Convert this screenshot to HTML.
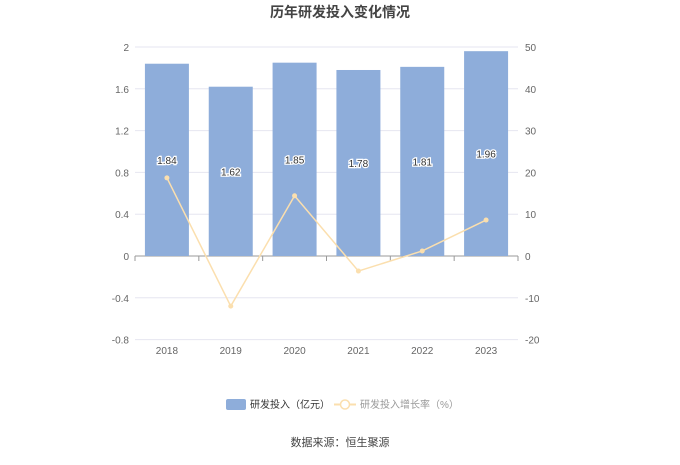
<!DOCTYPE html>
<html><head><meta charset="utf-8"><style>
body{margin:0;background:#fff;font-family:"Liberation Sans","Noto Sans CJK SC",sans-serif}
svg text{font-family:"Liberation Sans","Noto Sans CJK SC",sans-serif}
</style></head><body>
<svg id="c" width="680" height="460">
<text x="340" y="17" text-anchor="middle" font-size="14" font-weight="bold" fill="#444">历年研发投入变化情况</text>
<g id="grid"></g><g id="bars"></g><g id="line"></g><g id="labels"></g>
<g>
<rect x="226" y="399" width="20" height="11" rx="2" fill="#8eadda"/>
<text x="250" y="408" font-size="10" fill="#333">研发投入（亿元）</text>
<line x1="334" y1="404.5" x2="356" y2="404.5" stroke="#fbdfae" stroke-width="2"/>
<circle cx="345" cy="404.5" r="4.5" fill="#fff" stroke="#fbdfae" stroke-width="1.5"/>
<text x="360" y="408" font-size="10" fill="#999">研发投入增长率（%）</text>
</g>
<text x="340" y="446" text-anchor="middle" font-size="11" fill="#444">数据来源：恒生聚源</text>
</svg>
<script>
const categories=["2018","2019","2020","2021","2022","2023"];
const rdValues=[1.84,1.62,1.85,1.78,1.81,1.96];
const growthValues=[18.7,-12.0,14.4,-3.6,1.2,8.6];
const leftTicks=[-0.8,-0.4,0,0.4,0.8,1.2,1.6,2];
const rightTicks=[-20,-10,0,10,20,30,40,50];
const X0=135,X1=518,Y0=256,YT=47,YB=339;
const yL=v=>Y0-(v/2)*(Y0-YT);
const yR=v=>Y0-(v/50)*(Y0-YT);
const bw=(X1-X0)/categories.length;
const xC=i=>X0+bw*(i+0.5);
const NS="http://www.w3.org/2000/svg";
function mk(t,a,p){const e=document.createElementNS(NS,t);for(const k in a)e.setAttribute(k,a[k]);p.appendChild(e);return e;}
const g=document.getElementById('grid');
leftTicks.forEach((v,i)=>{const y=yL(v);
 const ln=mk('line',{x1:X0,x2:X1,y1:y,y2:y,stroke:v===0?'#999':'#e6e6f0','stroke-width':1},g);
 
 
 const t=mk('text',{x:X0-6,y:y+4,'text-anchor':'end','font-size':10,fill:'#666'},g);t.textContent=String(v);
 
 
 const r=mk('text',{x:X1+7,y:yR(rightTicks[i])+4,'font-size':10,fill:'#666'},g);r.textContent=String(rightTicks[i]);
 
 
});
categories.forEach((c,i)=>{
 const tk=mk('line',{x1:X0+bw*i,x2:X0+bw*i,y1:Y0,y2:Y0+5,stroke:'#999'},g);
 
 
 const t=mk('text',{x:xC(i),y:354,'text-anchor':'middle','font-size':10,fill:'#666'},g);t.textContent=c;
 
 
});
mk('line',{x1:X1,x2:X1,y1:Y0,y2:Y0+5,stroke:'#999'},g);
const b=document.getElementById('bars'),L=document.getElementById('labels');
rdValues.forEach((v,i)=>{
 const r=mk('rect',{x:xC(i)-22,y:yL(v),width:44,height:Y0-yL(v),fill:'#8eadda'},b);
 
 
 const t=mk('text',{x:xC(i),y:(yL(v)+Y0)/2+4,'text-anchor':'middle','font-size':10,fill:'#333',stroke:'#fff','stroke-width':2.5,'paint-order':'stroke'},L);
 t.textContent=v.toFixed(2).replace(/0$/,'');
 
 
});
const lg=document.getElementById('line');
const pl=mk('polyline',{points:growthValues.map((v,i)=>xC(i)+','+yR(v)).join(' '),fill:'none',stroke:'#fbdfae','stroke-width':1.5},lg);


growthValues.forEach((v,i)=>{
 const p=mk('circle',{cx:xC(i),cy:yR(v),r:2.5,fill:'#fbdfae'},lg);
 
 
});
</script>
</body></html>
